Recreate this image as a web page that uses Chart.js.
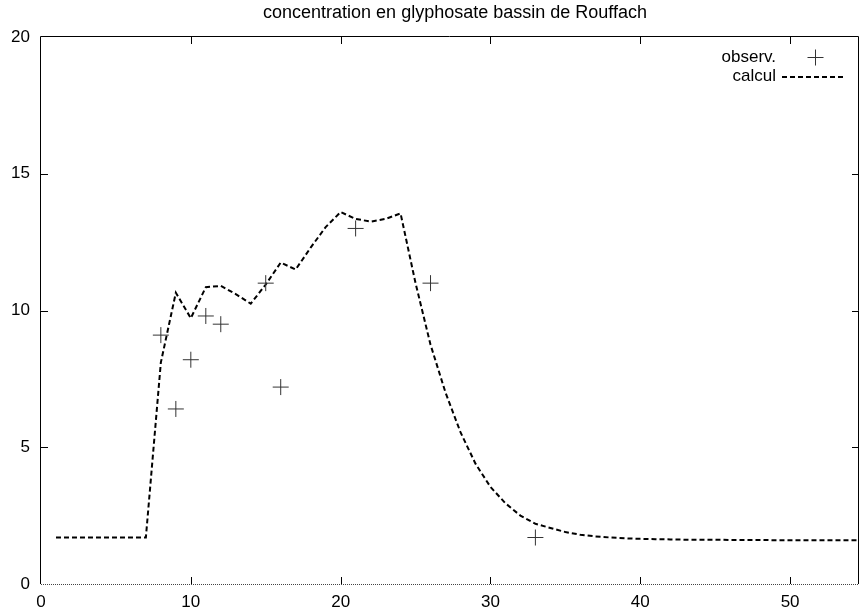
<!DOCTYPE html>
<html>
<head>
<meta charset="utf-8">
<script src="https://cdn.jsdelivr.net/npm/chart.js@4.4.1/dist/chart.umd.min.js"></script>
<style>
  html, body { margin: 0; padding: 0; background: #fff; }
  #wrap { width: 860px; height: 613px; position: relative; }
</style>
</head>
<body>
<div id="wrap"><canvas id="myChart"></canvas></div>
<script>

var titleText = 'concentration en glyphosate bassin de Rouffach';

// observations
var obsX = [8, 9, 10, 11, 12, 15, 16, 21, 26, 33];
var obsY = [9.1, 6.4, 8.2, 9.8, 9.5, 11, 7.2, 13, 11, 1.7];

// model (calcul)
var calcX = [1, 2, 3, 4, 5, 6, 7, 8, 9, 10, 11, 12, 13, 14, 15, 16, 17, 18, 19, 20,
    21, 22, 23, 24, 25, 26, 27, 28, 29, 30, 31, 32, 33, 34, 35, 36, 37, 38, 39, 40,
    41, 42, 43, 44, 45, 46, 47, 48, 49, 50, 51, 52, 53, 54, 55];
var calcY = [1.7, 1.7, 1.7, 1.7, 1.7, 1.7, 1.7, 8.1, 10.65, 9.72, 10.85, 10.9, 10.6, 10.25, 10.95, 11.75, 11.5, 12.3, 13.05, 13.6,
    13.35, 13.25, 13.35, 13.55, 11.0, 8.75, 7.0, 5.55, 4.4, 3.55, 2.95, 2.5, 2.2, 2.05, 1.9, 1.8, 1.74, 1.7, 1.67, 1.65,
    1.64, 1.63, 1.62, 1.62, 1.62, 1.61, 1.61, 1.61, 1.6, 1.6, 1.6, 1.6, 1.6, 1.6, 1.6];

var xTicks = [0, 10, 20, 30, 40, 50];
var yTicks = [0, 5, 10, 15, 20];

var seriesNames = ['observ.', 'calcul'];

var fontFamily = '"Liberation Sans", Arial, Helvetica, sans-serif';
var fontSize = 17;

function toPoints(xs, ys) {
    var pts = [];
    for (var i = 0; i != xs.length; i++) {
        pts.push({ x: xs[i], y: ys[i] });
    }
    return pts;
}

var framePlugin = {
    id: 'frame',
    afterDraw: function (chart) {
        var ctx = chart.ctx;
        var a = chart.chartArea;
        var xs = chart.scales.x;
        var ys = chart.scales.y;
        var tl = 7;

        ctx.save();
        ctx.strokeStyle = '#000';
        ctx.lineWidth = 1;

        // left, top, right border
        ctx.beginPath();
        ctx.moveTo(a.left - 0.5, a.bottom);
        ctx.lineTo(a.left - 0.5, a.top - 0.5);
        ctx.lineTo(a.right - 0.5, a.top - 0.5);
        ctx.lineTo(a.right - 0.5, a.bottom);
        ctx.stroke();

        // bottom border (dotted zero axis look)
        ctx.strokeStyle = '#444';
        ctx.setLineDash([1, 1]);
        ctx.beginPath();
        ctx.moveTo(a.left, a.bottom + 0.5);
        ctx.lineTo(a.right, a.bottom + 0.5);
        ctx.stroke();
        ctx.setLineDash([]);

        // inward ticks
        ctx.strokeStyle = '#000';
        ctx.beginPath();
        xTicks.forEach(function (v) {
            if (v == 0) return;
            var px = Math.round(xs.getPixelForValue(v)) + 0.5;
            ctx.moveTo(px, a.bottom);
            ctx.lineTo(px, a.bottom - tl);
            ctx.moveTo(px, a.top);
            ctx.lineTo(px, a.top + tl);
        });
        yTicks.forEach(function (v) {
            if (v == 0 || v == 20) return;
            var py = Math.round(ys.getPixelForValue(v)) + 0.5;
            ctx.moveTo(a.left, py);
            ctx.lineTo(a.left + tl, py);
            ctx.moveTo(a.right, py);
            ctx.lineTo(a.right - tl, py);
        });
        ctx.stroke();

        // title
        ctx.fillStyle = '#000';
        ctx.font = '18px ' + fontFamily;
        ctx.textAlign = 'center';
        ctx.textBaseline = 'middle';
        ctx.fillText(titleText, (a.left + a.right) / 2 + 5, 13);

        // key
        ctx.font = fontSize + 'px ' + fontFamily;
        ctx.textAlign = 'right';
        ctx.fillText(seriesNames[0], 776, 57);
        ctx.fillText(seriesNames[1], 776, 76);

        ctx.strokeStyle = '#333';
        ctx.lineWidth = 1;
        ctx.beginPath();
        ctx.moveTo(815.5 - 8, 57.5);
        ctx.lineTo(815.5 + 8, 57.5);
        ctx.moveTo(815.5, 57.5 - 8);
        ctx.lineTo(815.5, 57.5 + 8);
        ctx.stroke();

        ctx.strokeStyle = '#000';
        ctx.lineWidth = 2;
        ctx.setLineDash([5, 3]);
        ctx.beginPath();
        ctx.moveTo(782, 77);
        ctx.lineTo(846, 77);
        ctx.stroke();
        ctx.restore();
    }
};

var data = {
    datasets: [
        {
            label: seriesNames[0],
            data: toPoints(obsX, obsY),
            showLine: false,
            pointStyle: 'cross',
            pointRadius: 8,
            pointHoverRadius: 8,
            borderWidth: 1,
            borderColor: '#333',
            backgroundColor: '#333'
        },
        {
            label: seriesNames[1],
            data: toPoints(calcX, calcY),
            showLine: true,
            pointRadius: 0,
            borderColor: '#000',
            borderWidth: 2,
            borderDash: [5, 3],
            tension: 0,
            fill: false
        }
    ]
};

var config = {
    type: 'scatter',
    data: data,
    options: {
        responsive: true,
        maintainAspectRatio: false,
        animation: false,
        layout: {
            autoPadding: false,
            padding: { top: 37, right: 1, left: 0, bottom: 0 }
        },
        plugins: {
            legend: { display: false },
            title: { display: false },
            tooltip: { enabled: false }
        },
        scales: {
            x: {
                type: 'linear',
                min: 0,
                max: 54.6,
                afterFit: function (scale) {
                    scale.height = 29;
                    scale.paddingLeft = 0;
                    scale.paddingRight = 0;
                },
                afterBuildTicks: function (scale) {
                    scale.ticks = xTicks.map(function (v) { return { value: v }; });
                },
                grid: { display: false, drawTicks: false },
                border: { display: false },
                ticks: {
                    color: '#000',
                    padding: 8,
                    maxRotation: 0,
                    autoSkip: false,
                    font: { family: fontFamily, size: fontSize }
                }
            },
            y: {
                type: 'linear',
                min: 0,
                max: 20,
                afterFit: function (scale) {
                    scale.width = 41;
                    scale.paddingTop = 0;
                    scale.paddingBottom = 0;
                },
                afterBuildTicks: function (scale) {
                    scale.ticks = yTicks.map(function (v) { return { value: v }; });
                },
                grid: { display: false, drawTicks: false },
                border: { display: false },
                ticks: {
                    color: '#000',
                    padding: 11,
                    autoSkip: false,
                    font: { family: fontFamily, size: fontSize }
                }
            }
        }
    },
    plugins: [framePlugin]
};

var chart = new Chart(document.getElementById('myChart'), config);

</script>
</body>
</html>
